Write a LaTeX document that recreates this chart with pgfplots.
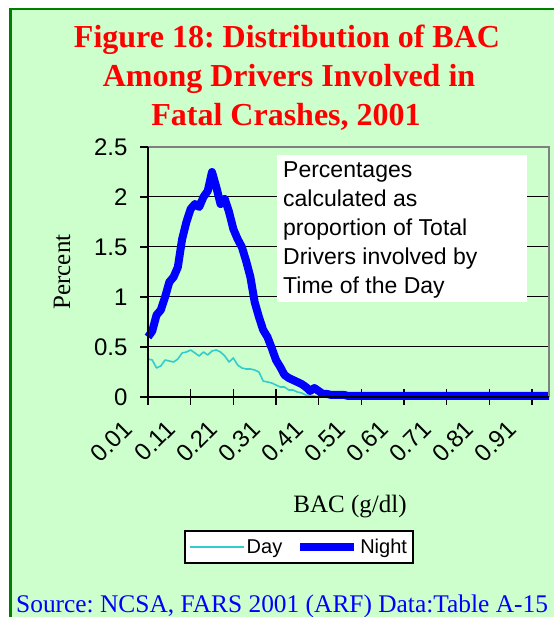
\documentclass[border=0pt]{standalone}
\usepackage{fontspec}
\setmainfont{Liberation Serif}
\newfontfamily\arial{Liberation Sans}
\usepackage{pgfplots}
\pgfplotsset{compat=1.18}
\definecolor{bggreen}{HTML}{CCFFCC}
\definecolor{edgegreen}{HTML}{008000}
\definecolor{daycol}{HTML}{33CCCC}
\definecolor{nightcol}{HTML}{0000FF}
\frenchspacing

\pgfplotstableread{
x y
0.01 0.38
0.02 0.37
0.03 0.29
0.04 0.31
0.05 0.37
0.06 0.36
0.07 0.35
0.08 0.38
0.09 0.44
0.10 0.45
0.11 0.47
0.12 0.44
0.13 0.41
0.14 0.45
0.15 0.42
0.16 0.46
0.17 0.47
0.18 0.45
0.19 0.41
0.20 0.35
0.21 0.39
0.22 0.32
0.23 0.29
0.24 0.28
0.25 0.28
0.26 0.27
0.27 0.25
0.28 0.16
0.29 0.15
0.30 0.14
0.31 0.12
0.32 0.10
0.33 0.10
0.34 0.07
0.35 0.07
0.36 0.05
0.37 0.04
0.38 0.02
0.39 0.01
0.40 0.01
0.41 0
0.45 0
0.50 0
0.55 0
0.60 0
0.65 0
0.70 0
0.75 0
0.80 0
0.85 0
0.90 0
0.95 0
}\daytab

\pgfplotstableread{
x y
0.01 0.60
0.02 0.66
0.03 0.82
0.04 0.87
0.05 1.00
0.06 1.15
0.07 1.20
0.08 1.30
0.09 1.58
0.10 1.75
0.11 1.88
0.12 1.93
0.13 1.90
0.14 2.00
0.15 2.06
0.16 2.25
0.17 2.10
0.18 1.93
0.19 1.98
0.20 1.85
0.21 1.68
0.22 1.58
0.23 1.50
0.24 1.36
0.25 1.20
0.26 0.95
0.27 0.80
0.28 0.67
0.29 0.60
0.30 0.49
0.31 0.37
0.32 0.30
0.33 0.22
0.34 0.19
0.35 0.17
0.36 0.15
0.37 0.13
0.38 0.10
0.39 0.06
0.40 0.09
0.41 0.06
0.42 0.03
0.43 0.03
0.44 0.02
0.45 0.02
0.46 0.02
0.47 0.02
0.48 0.01
0.50 0.01
0.55 0.01
0.60 0.01
0.65 0.01
0.70 0.01
0.75 0.01
0.80 0.01
0.85 0.01
0.90 0.01
0.95 0.01
}\nighttab

\begin{document}
\begin{tikzpicture}
\path[use as bounding box] (0,0) rectangle (554pt,617pt);
\fill[white] (0,0) rectangle (554pt,617pt);
\fill[bggreen] (10.5pt,0) rectangle (554pt,608pt);
\draw[edgegreen, line width=2.5pt] (10.5pt,0) -- (10.5pt,608pt) -- (554pt,608pt);

% title
\begin{scope}[every node/.style={text=red, anchor=base, font=\bfseries\fontsize{32}{39}\selectfont}]
\node at (287pt,569pt) {Figure 18: Distribution of BAC};
\node at (289pt,530pt) {Among Drivers Involved in};
\node at (286pt,491pt) {Fatal Crashes, 2001};
\end{scope}

\begin{axis}[
    at={(148pt,220pt)}, anchor=south west,
    scale only axis, width=401pt, height=250pt,
    xmin=0.01, xmax=0.95, ymin=0, ymax=2.5,
    xtick={0.01,0.11,0.21,0.31,0.41,0.51,0.61,0.71,0.81,0.91},
    xticklabels={0.01,0.11,0.21,0.31,0.41,0.51,0.61,0.71,0.81,0.91},
    extra x ticks={0.01,0.11,0.21,0.31,0.41,0.51,0.61,0.71,0.81,0.91},
    extra x tick labels={},
    extra x tick style={tick align=inside},
    ytick={0,0.5,1,1.5,2,2.5},
    yticklabels={0,0.5,1,1.5,2,2.5},
    xtick pos=bottom, ytick pos=left,
    tick align=outside,
    major tick length=8pt,
    tick style={black, line width=1.5pt},
    axis line style={draw=none},
    ymajorgrids=true,
    grid style={black, line width=1pt},
    ticklabel style={font=\arial\fontsize{24}{24}\selectfont},
    /pgf/number format/assume math mode=true,
    xticklabel style={xshift=-26pt, yshift=-9pt, rotate=45, anchor=north east},
    yticklabel style={xshift=-9pt},
    clip=false,
    legend columns=2,
    legend style={at={(0.3766,-0.6)}, anchor=center, draw=black, line width=2pt,
        fill=white, font=\arial\fontsize{20}{22}\selectfont,
        inner xsep=4pt, inner ysep=6pt,
        /tikz/every even column/.append style={column sep=12pt}},
    legend cell align=left,
    legend image code/.code={\draw[#1] (0pt,0pt) -- (54pt,0pt);},
]
\addplot[daycol, line width=1.6pt, line join=round] table[x=x, y=y] {\daytab};
\addlegendentry{Day}
\addplot[nightcol, line width=8pt, line join=round] table[x=x, y=y] {\nighttab};
\addlegendentry{Night}
\end{axis}

% plot area frame
\draw[gray, line width=2pt] (148pt,470pt) -- (549pt,470pt) -- (549pt,220pt);
\draw[black, line width=2.5pt] (148pt,470pt) -- (148pt,220pt) -- (549pt,220pt);

% note over the grid lines
\fill[white] (277pt,315pt) rectangle (527pt,462pt);
\begin{scope}[every node/.style={anchor=base west, inner sep=0pt, font=\arial\fontsize{23}{29}\selectfont}]
\node at (283pt,439pt) {Percentages};
\node at (283pt,410pt) {calculated as};
\node at (283pt,381pt) {proportion of Total};
\node at (283pt,352pt) {Drivers involved by};
\node at (283pt,323pt) {Time of the Day};
\end{scope}

% axis titles
\node[anchor=base, font=\fontsize{25}{25}\selectfont] at (350pt,104pt) {BAC (g/dl)};
\node[rotate=90, font=\fontsize{25}{25}\selectfont] at (62pt,345pt) {Percent};

% source line
\node[anchor=base west, inner sep=0pt, text=nightcol, font=\fontsize{25.4}{25.4}\selectfont] at (16pt,5pt) {Source: NCSA, FARS 2001 (ARF) Data:Table A-15};
\end{tikzpicture}
\end{document}
